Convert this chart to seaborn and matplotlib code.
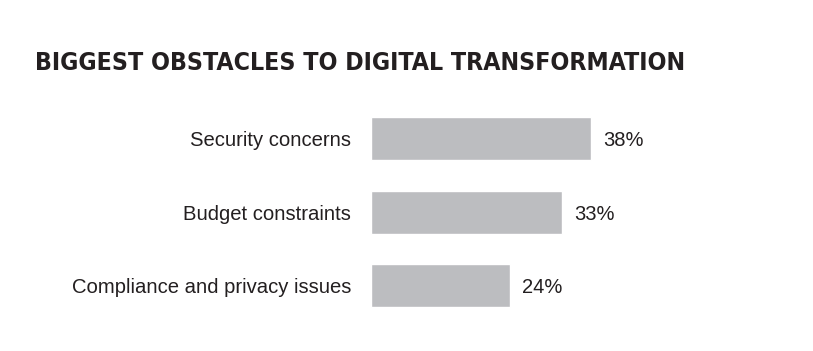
import pandas as pd
import matplotlib.pyplot as plt
import seaborn as sns
from matplotlib import font_manager

categories = ['Security concerns', 'Budget constraints', 'Compliance and privacy issues']
values = [38, 33, 24]
value_labels = ['38%', '33%', '24%']

df = pd.DataFrame({'obstacle': categories, 'pct': values})

sns.set_style('white')
plt.rcParams['font.family'] = ['Liberation Sans', 'DejaVu Sans']

# look for a condensed bold face for the title, otherwise fall back to Liberation Sans
title_props = dict(family='Liberation Sans', fontweight='bold')
for f in font_manager.fontManager.ttflist:
    narrow = ('Condensed' in f.fname or 'Narrow' in f.fname
              or str(f.stretch) in ('condensed', 'semi-condensed', 'extra-condensed'))
    if narrow and f.weight in ('bold', 700, 'heavy', 800):
        title_props = dict(fname=f.fname)
        break

text_color = '#231F20'
bar_color = '#BCBDC0'

fig = plt.figure(figsize=(8.13, 3.51), dpi=100)
ax = fig.add_axes([371 / 813, 28.5 / 351, 442 / 813, 220.5 / 351])

sns.barplot(data=df, y='obstacle', x='pct', color=bar_color, width=0.585,
            orient='h', ax=ax, saturation=1)

ax.set_xlim(0, 442 / (220 / 38))
ax.set_ylim(2.5, -0.5)
sns.despine(ax=ax, left=True, bottom=True)
ax.set_xticks([])
ax.set_xlabel('')
ax.set_ylabel('')
ax.tick_params(axis='y', length=0, pad=14.4, labelsize=14.6, labelcolor=text_color)

for i, (v, lab) in enumerate(zip(values, value_labels)):
    ax.text(v + 2.1, i, lab, va='center_baseline', ha='left', fontsize=14.5, color=text_color)

if 'fname' in title_props:
    fp = font_manager.FontProperties(fname=title_props['fname'], size=22)
else:
    fp = font_manager.FontProperties(family='Liberation Sans', weight='bold', size=22)
title = fig.text(35 / 813, 1 - 63 / 351, 'BIGGEST OBSTACLES TO DIGITAL TRANSFORMATION',
                 fontproperties=fp, color=text_color, va='center', ha='left')

# fit the title to the reference width
renderer = fig.canvas.get_renderer()
w = title.get_window_extent(renderer).width
if w > 648:
    title.set_fontsize(22 * 648 / w)

fig.savefig('out.png', dpi=100, facecolor='white')
